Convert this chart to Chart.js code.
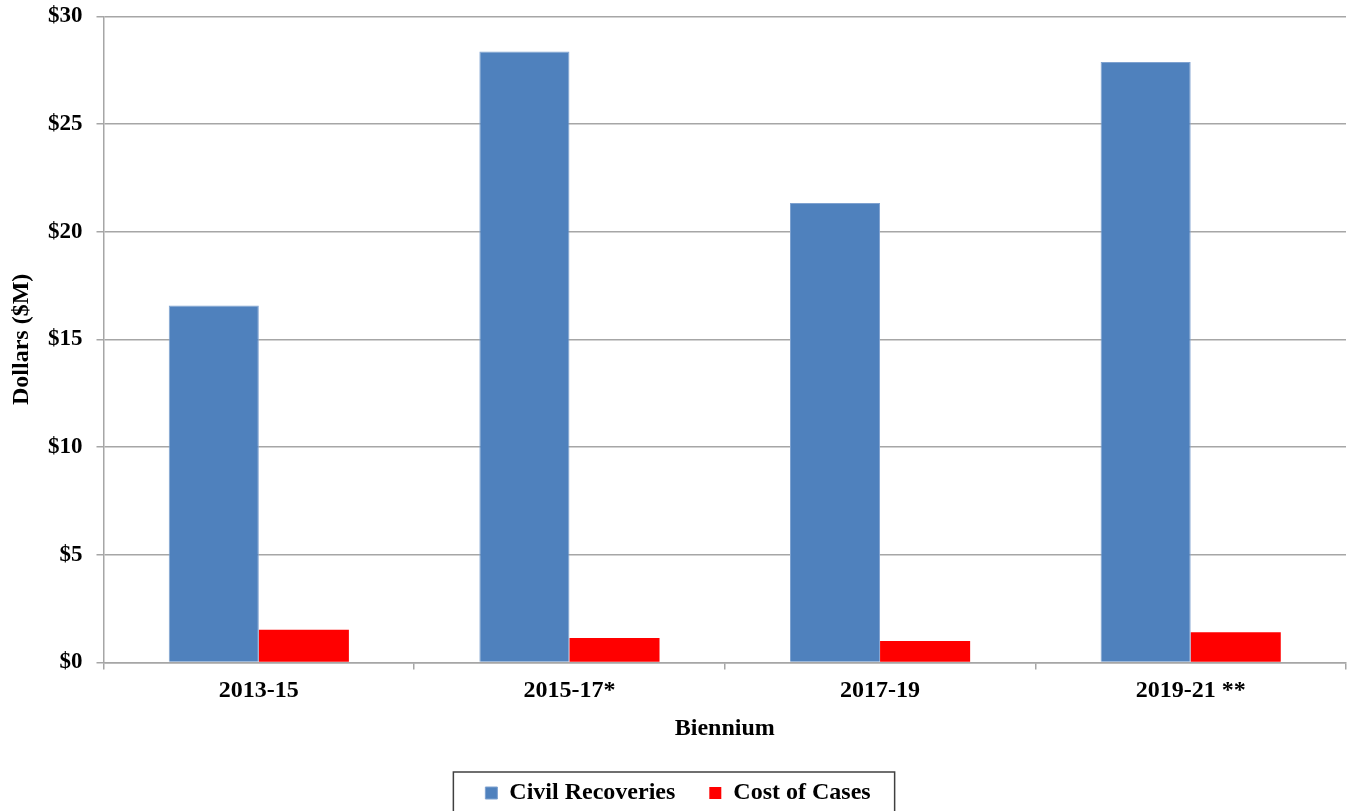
<!DOCTYPE html>
<html>
<head>
<meta charset="utf-8">
<script src="https://cdn.jsdelivr.net/npm/chart.js@4.4.1/dist/chart.umd.min.js"></script>
<style>
  html, body { margin: 0; padding: 0; background: #fff; overflow: hidden; }
  #wrap { width: 1347px; height: 811px; position: relative; }
</style>
</head>
<body>
<div id="wrap"><canvas id="chart"></canvas></div>
<script>
// Civil recoveries vs cost of cases, by biennium ($M)
const bienniums      = ['2013-15', '2015-17*', '2017-19', '2019-21 **'];
const civilRecovered = [16.57, 28.36, 21.33, 27.88];
const costOfCases    = [1.52, 1.13, 0.99, 1.40];
const yTicks         = [0, 5, 10, 15, 20, 25, 30];

const FONT  = "'Liberation Serif', 'Times New Roman', serif";
const GRID  = '#a6a6a6';
const INK   = '#000000';

// draws the box around the legend, like the spreadsheet one
const legendBox = {
  id: 'legendBox',
  afterDraw(chart) {
    const boxes = chart.legend?.legendHitBoxes;
    if (!boxes || !boxes.length) return;
    const first = boxes[0], last = boxes[boxes.length - 1];
    const ctx = chart.ctx;
    const cy  = first.top + first.height / 2;
    ctx.save();
    ctx.strokeStyle = '#404040';
    ctx.lineWidth = 1.5;
    ctx.strokeRect(first.left - 32, cy - 21, (last.left + last.width) - first.left + 56, chart.height);
    ctx.restore();
  },
};

new Chart(document.getElementById('chart'), {
  type: 'bar',
  data: {
    labels: bienniums,
    datasets: [
      {
        label: 'Civil Recoveries',
        data: civilRecovered,
        backgroundColor: '#4F81BD',
        borderColor: '#7fa2d0',
        borderWidth: 1,
      },
      {
        label: 'Cost of Cases',
        data: costOfCases,
        backgroundColor: '#FF0000',
        borderWidth: 0,
      },
    ],
  },
  options: {
    responsive: true,
    maintainAspectRatio: false,
    animation: false,
    datasets: { bar: { categoryPercentage: 0.58, barPercentage: 1.0 } },
    layout: { padding: { top: 0, right: 1, left: 10, bottom: -4 } },
    plugins: {
      tooltip: { enabled: false },
      legend: {
        position: 'bottom',
        labels: {
          color: INK,
          boxWidth: 12,
          boxHeight: 12,
          padding: 34,
          font: { family: FONT, size: 24, weight: 'bold' },
        },
      },
    },
    scales: {
      x: {
        grid: { offset: true, drawOnChartArea: false, drawTicks: true, tickLength: 7, color: GRID, lineWidth: 1.5 },
        border: { color: GRID, width: 1.5 },
        ticks: { color: INK, padding: 7, font: { family: FONT, size: 24, weight: 'bold' } },
        title: {
          display: true,
          text: 'Biennium',
          color: INK,
          padding: { top: 2, bottom: 4 },
          font: { family: FONT, size: 24, weight: 'bold' },
        },
      },
      y: {
        min: 0,
        max: 30,
        afterBuildTicks: axis => { axis.ticks = yTicks.map(v => ({ value: v })); },
        grid: { color: GRID, lineWidth: 1.5, drawTicks: true, tickLength: 7 },
        border: { color: GRID, width: 1.5 },
        ticks: {
          color: INK,
          padding: 14,
          font: { family: FONT, size: 23, weight: 'bold', lineHeight: 0.2 },
          callback: v => '$' + v,
        },
        title: {
          display: true,
          text: 'Dollars ($M)',
          color: INK,
          padding: { top: 0, bottom: 0 },
          font: { family: FONT, size: 24, weight: 'bold', lineHeight: 1 },
        },
      },
    },
  },
  plugins: [legendBox],
});
</script>
</body>
</html>
